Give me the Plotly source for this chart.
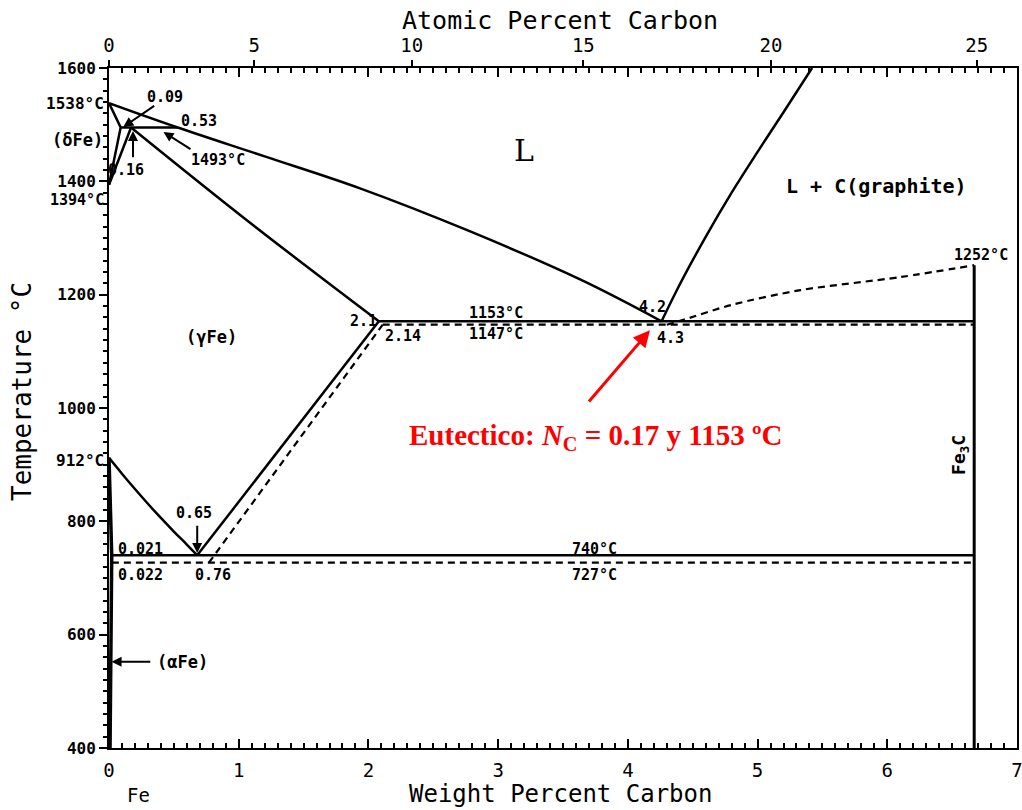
import plotly.graph_objects as go

# ---------------- data (weight % C , temperature °C) ----------------
liq_wt = [0.0, 0.53, 1.2, 1.93, 2.78, 3.64, 4.26]
liq_T = [1538, 1495, 1444, 1388, 1312, 1226, 1153]

delta_wt = [0.0, 0.09, 0.0]
delta_T = [1538, 1495, 1394]

perit_wt = [0.09, 0.53]
perit_T = [1495, 1495]

gam_hi_wt = [0.0, 0.17]
gam_hi_T = [1394, 1495]

solidus_wt = [0.17, 1.07, 2.08]
solidus_T = [1495, 1330, 1153]

eut_wt = [2.08, 6.67]
eut_T = [1153, 1153]

acm_wt = [0.68, 2.08]
acm_T = [740, 1153]

a3_wt = [0.0, 0.1, 0.2, 0.3, 0.4, 0.5, 0.6, 0.68]
a3_T = [912, 884, 857, 831, 806, 782, 759, 740]

eutd_wt = [0.021, 6.67]
eutd_T = [740, 740]

alpha_wt = [0.0, 0.021, 0.008]
alpha_T = [912, 740, 400]

fe3c_wt = [6.67, 6.67]
fe3c_T = [400, 1252]

graph_wt = [4.26, 4.4, 4.6, 4.8, 5.0, 5.2, 5.42]
graph_T = [1153, 1218, 1302, 1380, 1452, 1522, 1600]

# metastable (dashed)
eut_m_wt = [2.11, 6.67]
eut_m_T = [1147, 1147]

acm_m_wt = [0.77, 2.11]
acm_m_T = [727, 1147]

eutd_m_wt = [0.022, 6.67]
eutd_m_T = [727, 727]

cem_liq_wt = [4.3, 4.42, 4.8, 5.33, 6.1, 6.67]
cem_liq_T = [1147, 1155, 1182, 1208, 1231, 1252]

# axis ticks
wt_ticks = [0, 1, 2, 3, 4, 5, 6, 7]
temp_ticks = [400, 600, 800, 1000, 1200, 1400, 1600]
at_ticks = [0, 5, 10, 15, 20, 25]


def at_to_wt(a):
    m_c, m_fe = 12.011, 55.845
    return 100 * a * m_c / (a * m_c + (100 - a) * m_fe)


BLACK = "black"
LW = 2.5

fig = go.Figure()

straight = [
    (delta_wt, delta_T), (perit_wt, perit_T), (gam_hi_wt, gam_hi_T),
    (eut_wt, eut_T), (acm_wt, acm_T), (eutd_wt, eutd_T),
]
curved = [(liq_wt, liq_T), (solidus_wt, solidus_T), (a3_wt, a3_T), (graph_wt, graph_T)]

for xs, ys in straight:
    fig.add_trace(go.Scatter(x=xs, y=ys, mode="lines", line=dict(color=BLACK, width=LW),
                             hoverinfo="skip", showlegend=False))
for xs, ys in curved:
    fig.add_trace(go.Scatter(x=xs, y=ys, mode="lines",
                             line=dict(color=BLACK, width=LW, shape="spline", smoothing=1.0),
                             hoverinfo="skip", showlegend=False))

fig.add_trace(go.Scatter(x=alpha_wt, y=alpha_T, mode="lines", line=dict(color=BLACK, width=3.5),
                         hoverinfo="skip", showlegend=False))
fig.add_trace(go.Scatter(x=fe3c_wt, y=fe3c_T, mode="lines", line=dict(color=BLACK, width=3),
                         hoverinfo="skip", showlegend=False, xaxis="x2"))

dashed = [(eut_m_wt, eut_m_T), (acm_m_wt, acm_m_T), (eutd_m_wt, eutd_m_T)]
for xs, ys in dashed:
    fig.add_trace(go.Scatter(x=xs, y=ys, mode="lines",
                             line=dict(color=BLACK, width=2.2, dash="7px,5px"),
                             hoverinfo="skip", showlegend=False))
fig.add_trace(go.Scatter(x=cem_liq_wt, y=cem_liq_T, mode="lines",
                         line=dict(color=BLACK, width=2.2, dash="7px,5px", shape="spline", smoothing=0.8),
                         hoverinfo="skip", showlegend=False))

LBL = dict(family="DejaVu Sans Mono", size=15, color="black", weight="bold")
ann = []


def txt(x, y, s, font=None, **kw):
    d = dict(x=x, y=y, xref="x", yref="y", text=s, showarrow=False, font=font or LBL)
    d.update(kw)
    ann.append(d)


def arrow(x, y, ax, ay, color="black", width=2, size=1.0):
    ann.append(dict(x=x, y=y, ax=ax, ay=ay, xref="x", yref="y", axref="x", ayref="y",
                    text="", showarrow=True, arrowhead=2, arrowsize=size,
                    arrowwidth=width, arrowcolor=color))


txt(0, 1538, "1538°C", font=dict(LBL, size=16), xanchor="right", xshift=-3)
txt(0, 1473, "(δFe)", font=dict(LBL, size=17), xanchor="right", xshift=-4)
txt(0, 1367, "1394°C", font=dict(LBL, size=15), xanchor="right", xshift=-3)
txt(0, 908, "912°C", font=dict(LBL, size=16), xanchor="right", xshift=-3)

txt(0.43, 1548, "0.09")
arrow(0.11, 1496, 0.36, 1535)
txt(0.69, 1507, "0.53")
txt(0.84, 1437, "1493°C")
arrow(0.42, 1487, 0.64, 1455)
txt(0.13, 1420, "0.16")
arrow(0.185, 1489, 0.185, 1440)

txt(3.2, 1455, "L", font=dict(family="DejaVu Serif", size=30, color="black"))
txt(5.92, 1392, "L + C(graphite)", font=dict(LBL, size=20))
txt(6.72, 1270, "1252°C")
txt(4.19, 1179, "4.2")
txt(4.33, 1124, "4.3")
txt(1.96, 1153, "2.1")
txt(2.27, 1127, "2.14")
txt(2.98, 1168, "1153°C")
txt(2.98, 1130, "1147°C")
txt(0.79, 1125, "(γFe)", font=dict(LBL, size=17))

txt(0.655, 815, "0.65")
arrow(0.68, 744, 0.68, 795)
txt(0.24, 752, "0.021")
txt(0.24, 706, "0.022")
txt(0.80, 706, "0.76")
txt(3.74, 752, "740°C")
txt(3.74, 706, "727°C")
txt(6.56, 917, "Fe<sub>3</sub>C", textangle=-90, font=dict(LBL, size=18))
txt(0.57, 552, "(αFe)", font=dict(LBL, size=17))
arrow(0.02, 552, 0.33, 552)

# red annotation
arrow(4.17, 1137, 3.69, 1009, color="#ff0000", width=3, size=1.1)
txt(3.75, 949, "<b>Eutectico: <i>N</i><sub>C</sub> = 0.17 y 1153 ºC</b>",
    font=dict(family="Liberation Serif", size=29, color="#ff0000"))

TITLE = dict(family="DejaVu Sans Mono", size=25, color="black")
ann.append(dict(x=0.5, y=1, xref="paper", yref="paper", yshift=48, text="Atomic Percent Carbon",
                showarrow=False, font=TITLE, yanchor="middle", xshift=-3))
ann.append(dict(x=0.5, y=0, xref="paper", yref="paper", yshift=-46, text="Weight Percent Carbon",
                showarrow=False, font=dict(TITLE, size=24), yanchor="middle", xshift=-3))
ann.append(dict(x=0, y=0.5, xref="paper", yref="paper", xshift=-87, yshift=16,
                text="Temperature °C", textangle=-90, showarrow=False,
                font=dict(TITLE, size=26), xanchor="center"))
ann.append(dict(x=0, y=0, xref="paper", yref="paper", xshift=16, yshift=-47, text="Fe",
                showarrow=False, font=dict(family="DejaVu Sans Mono", size=19, color="black"),
                yanchor="middle"))

fig.update_layout(
    width=1022, height=810,
    margin=dict(l=109, r=5, t=68, b=62, autoexpand=False),
    paper_bgcolor="white", plot_bgcolor="white",
    annotations=ann,
    xaxis=dict(range=[0, 7], tickvals=wt_ticks, ticks="inside", ticklen=9, tickwidth=1.5,
               tickcolor="black", showline=True, linecolor="black", linewidth=2,
               mirror="allticks", showgrid=False, zeroline=False, automargin=False,
               ticklabeloverflow="allow",
               minor=dict(dtick=0.1, ticks="inside", ticklen=5, tickcolor="black", showgrid=False),
               tickfont=dict(family="DejaVu Sans Mono", size=19, color="black"),
               ticklabelstandoff=4),
    xaxis2=dict(range=[0, 7], overlaying="x", side="top", automargin=False,
                tickvals=[at_to_wt(a) for a in at_ticks], ticktext=[str(a) for a in at_ticks],
                ticks="outside", ticklen=7, tickwidth=1.5, tickcolor="black",
                showline=False, showgrid=False, zeroline=False,
                tickfont=dict(family="DejaVu Sans Mono", size=19, color="black")),
    yaxis=dict(range=[400, 1600], tickvals=temp_ticks, ticks="outside", ticklen=8, tickwidth=1.5,
               tickcolor="black", showline=True, linecolor="black", linewidth=2, mirror=True,
               showgrid=False, zeroline=False, automargin=False,
               minor=dict(dtick=20, ticks="outside", ticklen=4, tickcolor="black", showgrid=False),
               tickfont=dict(family="DejaVu Sans Mono", size=16, color="black", weight="bold")),
)

fig.write_html("out.html")
